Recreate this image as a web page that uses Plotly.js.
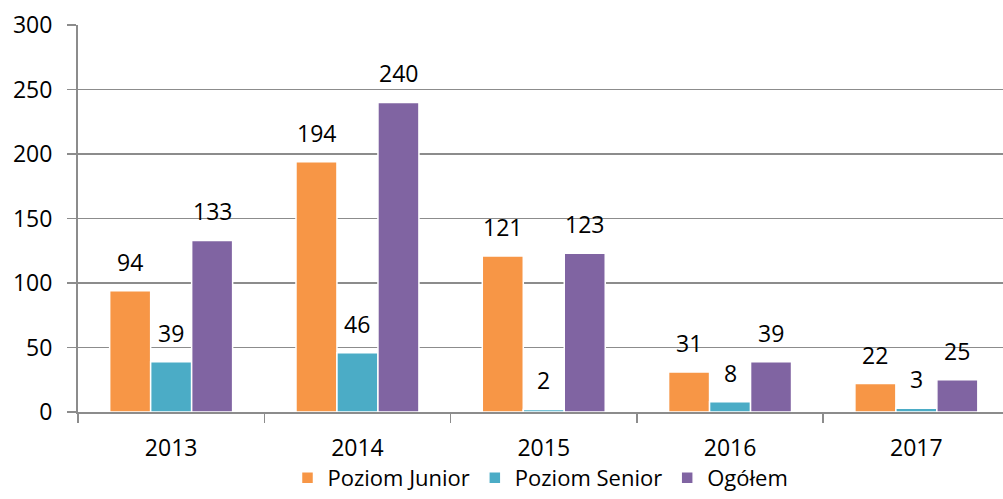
<!DOCTYPE html>
<html>
<head>
<meta charset="utf-8">
<script src="https://cdn.plot.ly/plotly-3.0.1.min.js"></script>
<style>html,body{margin:0;padding:0;background:#fff;}#chart{width:1003px;height:499px;}</style>
</head>
<body>
<div id="chart"></div>
<script>
const years = ['2013', '2014', '2015', '2016', '2017'];
const seriesNames = ['Poziom Junior', 'Poziom Senior', 'Ogółem'];
const junior = [94, 194, 121, 31, 22];
const senior = [39, 46, 2, 8, 3];
const total = [133, 240, 123, 39, 25];
const yTicks = [0, 50, 100, 150, 200, 250, 300];

const colors = ['#F79646', '#4BACC6', '#8064A2'];
const allSeries = [junior, senior, total];
const FONT = '"Open Sans", sans-serif';
const FS = 23;

const traces = allSeries.map((vals, i) => ({
  type: 'bar',
  name: seriesNames[i],
  x: years,
  y: vals,
  marker: {color: colors[i], line: {color: '#ffffff', width: 1.5}},
  hoverinfo: 'x+y+name'
}));

const barPx = 41;
const annotations = [];
allSeries.forEach((vals, i) => {
  vals.forEach((v, j) => {
    annotations.push({
      x: j, y: v, xref: 'x', yref: 'y',
      text: String(v), showarrow: false,
      xshift: (i - 1) * barPx, yshift: 29,
      font: {family: FONT, size: FS, color: '#000'}
    });
  });
});

const layout = {
  width: 1003, height: 499,
  margin: {l: 78, r: 0, t: 25, b: 87, autoexpand: false},
  paper_bgcolor: '#ffffff', plot_bgcolor: '#ffffff',
  barmode: 'group', bargap: 0.34, bargroupgap: 0,
  font: {family: FONT, size: FS, color: '#000'},
  xaxis: {
    type: 'category',
    range: [-0.5, 4.465],
    showline: true, linecolor: '#8c8c8c', linewidth: 2,
    ticks: 'outside', tickson: 'boundaries', ticklen: 9, tickcolor: '#8c8c8c', tickwidth: 1.5,
    ticklabelstandoff: 14,
    showgrid: false, zeroline: false,
    tickfont: {family: FONT, size: FS, color: '#000'}
  },
  yaxis: {
    range: [0, 300],
    tickvals: yTicks, ticktext: yTicks.map(String),
    showline: true, linecolor: '#8c8c8c', linewidth: 2,
    ticks: 'outside', ticklen: 9, tickcolor: '#8c8c8c', tickwidth: 1.5,
    ticklabelstandoff: 10,
    showgrid: true, gridcolor: '#8c8c8c', gridwidth: 1.5,
    zeroline: false,
    tickfont: {family: FONT, size: FS, color: '#000'}
  },
  showlegend: true,
  legend: {
    orientation: 'h', x: 0.5, xanchor: 'center', y: -0.2248, yanchor: 'bottom',
    font: {family: FONT, size: 22, color: '#000'},
    traceorder: 'normal'
  },
  annotations: annotations
};

Plotly.newPlot('chart', traces, layout, {displayModeBar: false, staticPlot: true});
</script>
</body>
</html>
